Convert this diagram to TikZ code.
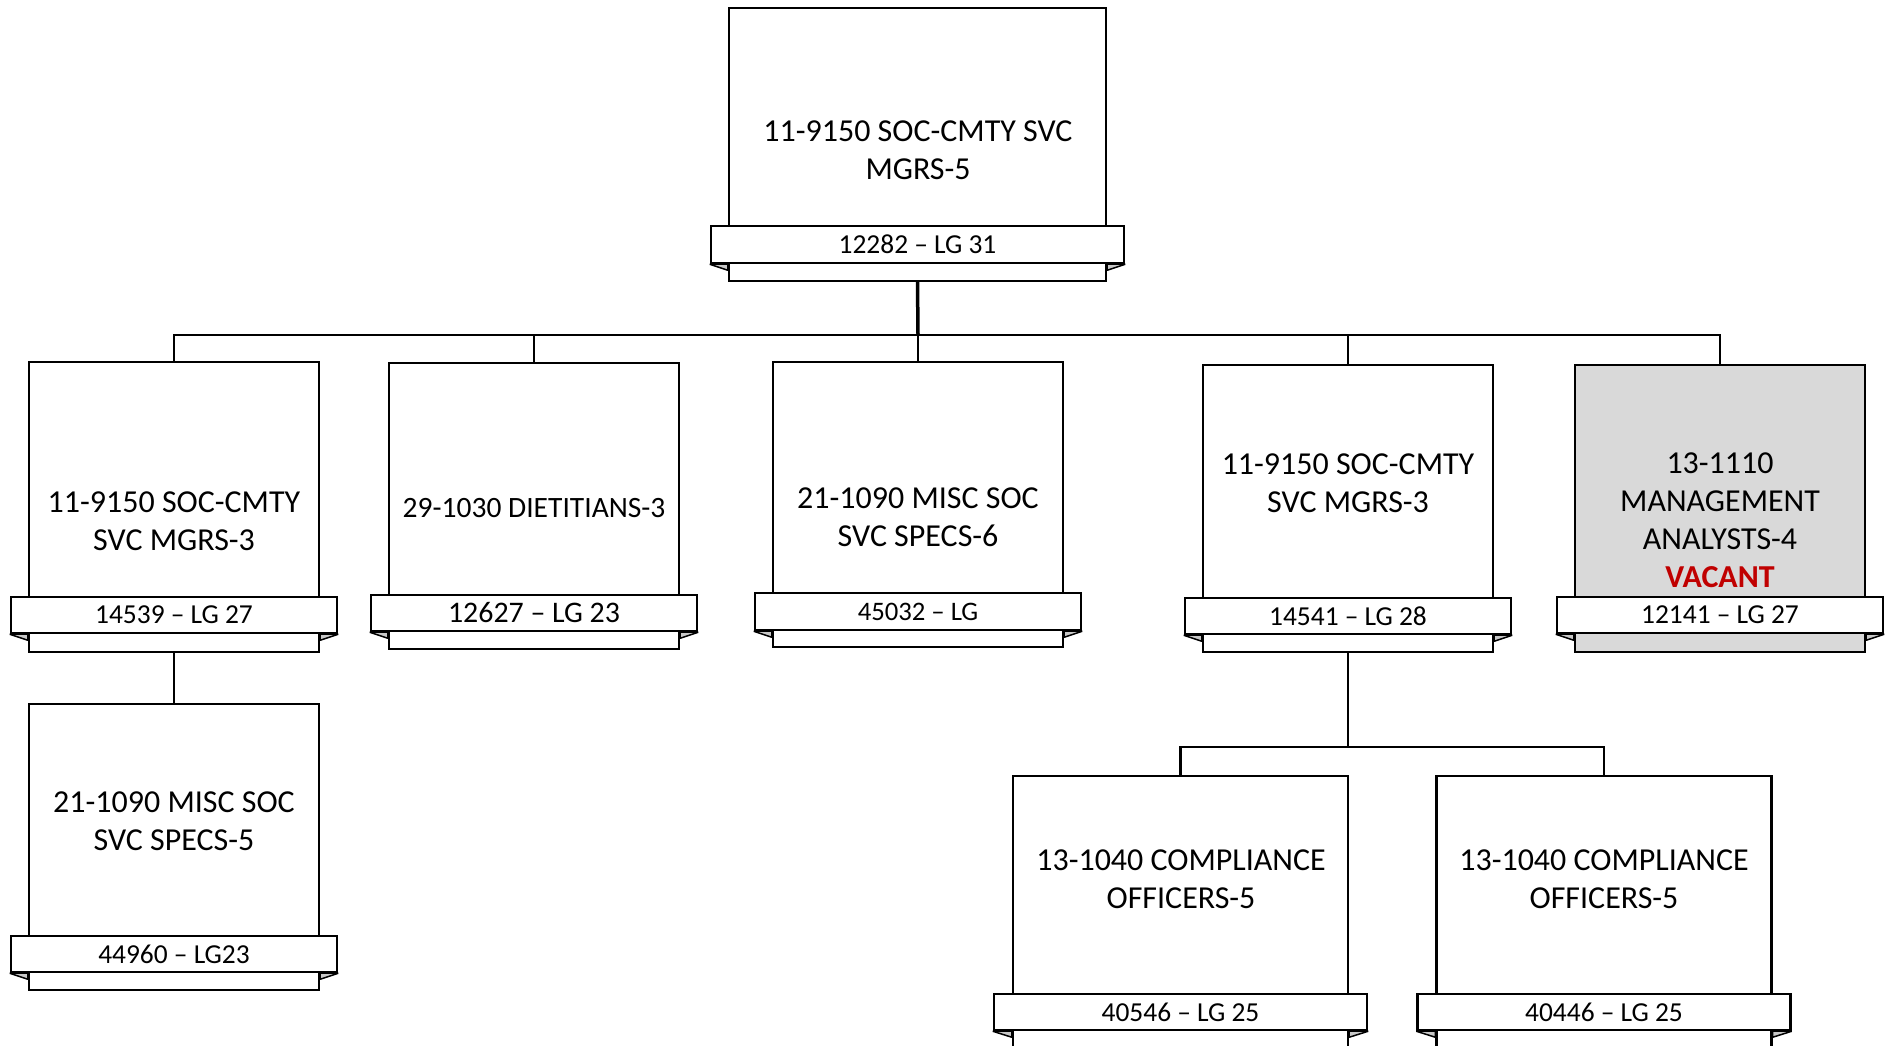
\documentclass[tikz,border=0pt]{standalone}
\usepackage{fontspec}
\setmainfont{Carlito}
\usepackage{tikz}
\usetikzlibrary{positioning}
\definecolor{vacantred}{HTML}{C00000}
\definecolor{vacantgray}{HTML}{D9D9D9}
\tikzstyle{post} = [rectangle, draw, line width=0.05cm, fill=white, inner sep=0pt,
   minimum width=5.8cm, minimum height=5.74cm]
\tikzstyle{band} = [rectangle, draw, line width=0.05cm, fill=white, inner sep=0pt,
   minimum width=6.52cm, minimum height=0.72cm, font=\fontsize{15.6}{18}\selectfont]
\tikzstyle{title} = [align=center, inner sep=0pt, font=\fontsize{18.2}{21.6}\selectfont]
\tikzstyle{tail} = [draw, line width=0.03cm, fill=black!22, line join=bevel]
\tikzstyle{wire} = [draw, line width=0.055cm]

\begin{document}
\begin{tikzpicture}[x=0.02cm, y=-0.02cm]

\useasboundingbox (0,0) rectangle (1889,1045);

\node (b0) [post, minimum width=7.54cm, minimum height=5.46cm] at (917.5,144.5) {};
\node (r0) [band, minimum width=8.26cm, minimum height=0.74cm, above=0.36cm of b0.south] {12282 -- LG 31};
\node (t0) [title] at (918,150) {11-9150 SOC-CMTY SVC\\MGRS-5};

\node (bA) [post, minimum height=5.8cm] at (174,507) {};
\node (rA) [band, above=0.38cm of bA.south] {14539 -- LG 27};
\node (tA) [title] at (174,521) {11-9150 SOC-CMTY\\SVC MGRS-3};

\node (bB) [post, minimum height=5.72cm] at (534,506) {};
\node (rB) [band, above=0.36cm of bB.south, font=\fontsize{17}{20}\selectfont] {12627 -- LG 23};
\node (tB) [title, font=\fontsize{16.8}{20}\selectfont] at (534,508) {29-1030 DIETITIANS-3};

\node (bC) [post, minimum height=5.7cm] at (918,504.5) {};
\node (rC) [band, minimum height=0.74cm, above=0.34cm of bC.south, font=\fontsize{15.2}{18}\selectfont] {45032 -- LG};
\node (tC) [title] at (918,517) {21-1090 MISC SOC\\SVC SPECS-6};

\node (bD) [post] at (1348,508.5) {};
\node (rD) [band, above=0.36cm of bD.south] {14541 -- LG 28};
\node (tD) [title] at (1348,483) {11-9150 SOC-CMTY\\SVC MGRS-3};

\node (bE) [post, fill=vacantgray] at (1720,508.5) {};
\node (rE) [band, above=0.38cm of bE.south] {12141 -- LG 27};
\node (tE) [title] at (1720,520) {13-1110\\MANAGEMENT\\ANALYSTS-4\\{\color{vacantred}\bfseries VACANT}};

\node (bF) [post, minimum height=5.72cm] at (174,847) {};
\node (rF) [band, above=0.36cm of bF.south] {44960 -- LG23};
\node (tF) [title] at (174,821) {21-1090 MISC SOC\\SVC SPECS-5};

\node (bG) [post, minimum width=6.7cm, minimum height=5.44cm] at (1180.5,912) {};
\node (rG) [band, minimum width=7.46cm, above=0.36cm of bG.south] {40546 -- LG 25};
\node (tG) [title] at (1181,879) {13-1040 COMPLIANCE\\OFFICERS-5};

\node (bH) [post, minimum width=6.7cm, minimum height=5.44cm] at (1604,912) {};
\node (rH) [band, minimum width=7.46cm, above=0.36cm of bH.south] {40446 -- LG 25};
\node (tH) [title] at (1604,879) {13-1040 COMPLIANCE\\OFFICERS-5};

\foreach \b/\r in {b0/r0,bA/rA,bB/rB,bC/rC,bD/rD,bE/rE,bF/rF,bG/rG,bH/rH}
{
  \draw [tail] (\r.south west) -- (\b.south west |- \r.south) -- ++(0,6) -- cycle;
  \draw [tail] (\r.south east) -- (\b.south east |- \r.south) -- ++(0,6) -- cycle;
}

\coordinate (hub) at (918,335);
\coordinate (fork) at (1348,747);

\draw [wire, line width=0.07cm] (b0.south) -- (hub);
\draw [wire] (bA.north) |- (hub) -| (bE.north);
\draw [wire] (bB.north) -- (bB.north |- hub);
\draw [wire] (bC.north) -- (hub);
\draw [wire] (bD.north) -- (bD.north |- hub);
\draw [wire] (bA.south) -- (bF.north);
\draw [wire] (bD.south) -- (fork);
\draw [wire] (bG.north) |- (fork) -| (bH.north);

\end{tikzpicture}
\end{document}
